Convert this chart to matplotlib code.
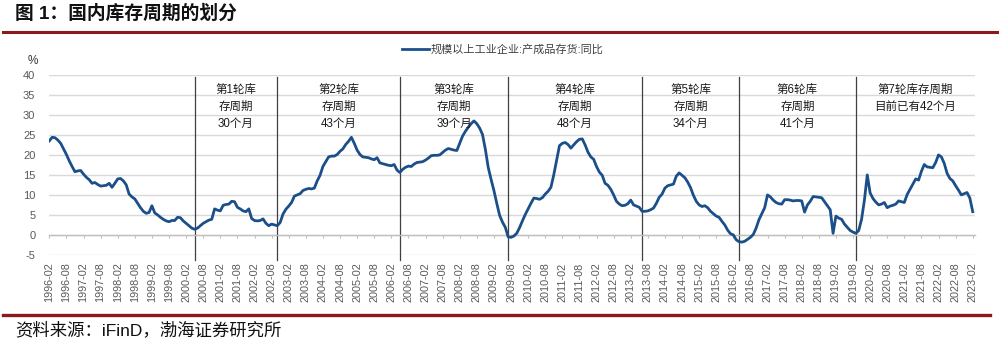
import numpy as np
import pandas as pd
import matplotlib
matplotlib.use("Agg")
import matplotlib.pyplot as plt
from matplotlib.lines import Line2D

plt.rcParams['font.family'] = ['Liberation Sans', 'Noto Sans CJK SC', 'DejaVu Sans']
plt.rcParams['axes.unicode_minus'] = False

# 规模以上工业企业:产成品存货:同比 (%), monthly from 1996-02
months = pd.period_range('1996-02', '2023-02', freq='M')
inventory_yoy = [
    # 1996 (Feb-Dec)
    23.6, 24.5, 24.4, 23.8, 23.0, 21.6, 20.2, 18.6, 17.2, 15.9, 16.1,
    # 1997
    16.2, 15.3, 14.5, 13.9, 13.0, 13.2, 12.7, 12.3, 12.4, 12.5, 13.0, 12.0,
    # 1998
    13.0, 14.1, 14.2, 13.6, 12.6, 10.3, 9.6, 9.1, 8.0, 6.9, 6.0, 5.5,
    # 1999
    5.7, 7.4, 5.6, 5.1, 4.5, 4.0, 3.6, 3.4, 3.7, 3.7, 4.5, 4.4,
    # 2000
    3.6, 3.0, 2.4, 1.8, 1.5, 1.8, 2.4, 3.0, 3.4, 3.8, 4.0, 6.6,
    # 2001
    6.3, 6.1, 7.5, 7.7, 7.8, 8.5, 8.4, 7.0, 6.6, 6.1, 5.9, 6.6,
    # 2002
    4.2, 3.7, 3.6, 3.7, 4.1, 3.0, 2.4, 2.8, 2.6, 2.4, 3.2, 5.3,
    # 2003
    6.5, 7.3, 8.2, 9.8, 10.1, 10.4, 11.2, 11.5, 11.7, 11.6, 11.8, 13.6,
    # 2004
    15.0, 17.2, 18.4, 19.6, 19.8, 19.8, 20.2, 21.0, 21.6, 22.7, 23.5, 24.5,
    # 2005
    23.0, 21.3, 20.2, 19.6, 19.5, 19.4, 19.1, 18.9, 19.4, 18.1, 17.9, 17.7,
    # 2006
    17.5, 17.4, 17.7, 16.3, 15.7, 16.5, 17.0, 17.3, 17.2, 17.8, 18.2, 18.3,
    # 2007
    18.4, 18.8, 19.3, 19.9, 20.0, 20.0, 20.1, 20.7, 21.3, 21.7, 21.5, 21.3,
    # 2008
    21.2, 23.0, 24.8, 26.0, 27.0, 27.9, 28.6, 27.9, 26.8, 25.2, 21.5, 17.0,
    # 2009
    14.0, 11.2, 8.0, 5.0, 3.3, 2.0, -0.4, -0.5, -0.2, 0.5, 1.9, 3.6,
    # 2010
    5.2, 6.6, 8.0, 9.3, 9.2, 9.0, 9.4, 10.3, 11.0, 12.0, 15.1, 18.8,
    # 2011
    22.4, 23.0, 23.2, 22.7, 21.8, 22.6, 23.4, 24.0, 24.1, 22.6, 20.8, 19.6,
    # 2012
    19.0, 17.2, 15.8, 15.0, 13.0, 12.5, 11.5, 10.1, 8.5, 7.8, 7.4, 7.5,
    # 2013
    7.9, 8.8, 7.6, 7.3, 7.0, 6.0, 6.0, 6.1, 6.4, 6.8, 8.0, 9.5,
    # 2014
    10.3, 11.8, 12.4, 12.6, 12.8, 14.8, 15.6, 15.0, 14.4, 13.3, 11.9, 10.0,
    # 2015
    8.5, 7.6, 7.2, 7.4, 6.9, 6.0, 5.4, 4.8, 4.5, 3.5, 2.6, 1.3,
    # 2016
    0.4, 0.1, -1.1, -1.6, -1.7, -1.5, -1.0, -0.5, 0.2, 1.8, 3.9, 5.4,
    # 2017
    6.9, 10.1, 9.6, 8.8, 8.2, 7.9, 7.8, 8.9, 8.9, 8.8, 8.6, 8.7,
    # 2018
    8.7, 8.6, 5.8, 7.6, 8.5, 9.7, 9.6, 9.5, 9.4, 8.4, 7.4, 6.4,
    # 2019
    0.5, 4.8, 4.3, 4.0, 2.8, 2.0, 1.2, 0.8, 0.5, 1.2, 4.0, 8.8,
    # 2020
    15.1, 10.6, 9.2, 8.3, 7.6, 7.8, 8.2, 6.9, 7.3, 7.5, 7.8, 8.6,
    # 2021
    8.4, 8.2, 10.2, 11.5, 12.8, 14.1, 13.8, 16.0, 17.7, 17.1, 17.0, 16.9,
    # 2022
    18.2, 20.1, 19.6, 18.0, 15.5, 14.2, 13.6, 12.4, 11.3, 10.1, 10.4, 10.7,
    # 2023
    9.3, 5.9,
]
assert len(inventory_yoy) == len(months)

# start month of each inventory cycle
cycle_starts = ['2000-05', '2002-10', '2006-05', '2009-07', '2013-06', '2016-04', '2019-09']
cycle_labels = [
    '第1轮库\n存周期\n30个月',
    '第2轮库\n存周期\n43个月',
    '第3轮库\n存周期\n39个月',
    '第4轮库\n存周期\n48个月',
    '第5轮库\n存周期\n34个月',
    '第6轮库\n存周期\n41个月',
    '第7轮库存周期\n目前已有42个月',
]
series_name = '规模以上工业企业:产成品存货:同比'

LINE_BLUE = '#1b4f8a'
DARK_RED = '#8b1a1a'
GREY_TXT = '#595959'

x = np.arange(len(months))
month_pos = {str(p): i for i, p in enumerate(months)}

fig = plt.figure(figsize=(10, 3.45), dpi=100)
ax = fig.add_axes([0.0493, 0.26, 0.9257, 0.5217])

ax.plot(x, inventory_yoy, color=LINE_BLUE, lw=2.0, label=series_name, zorder=3)

ax.set_xlim(0, 324.8)
ax.set_ylim(-5, 40)
ax.set_yticks(range(-5, 41, 5))
ax.yaxis.grid(True, color='#d9d9d9', lw=1.0)
ax.set_axisbelow(True)
for side in ['left', 'right', 'top']:
    ax.spines[side].set_visible(False)
ax.spines['bottom'].set_position(('data', 0))
ax.spines['bottom'].set_color('#bfbfbf')
ax.spines['bottom'].set_linewidth(1.0)

tick_idx = x[::6]
ax.set_xticks(tick_idx)
ax.set_xticklabels([str(months[i]) for i in tick_idx], rotation=90)
ax.tick_params(axis='x', direction='out', length=2.5, color='#bfbfbf',
               pad=17, labelsize=7.8, labelcolor=GREY_TXT)
ax.tick_params(axis='y', length=0, pad=10, labelsize=8, labelcolor=GREY_TXT)

# cycle boundaries and labels
bounds = [month_pos[s] for s in cycle_starts] + [ax.get_xlim()[1]]
for i, label in enumerate(cycle_labels):
    if i < len(cycle_starts):
        ax.plot([bounds[i], bounds[i]], [-6.2, 39.6], color='#404040', lw=0.9,
                clip_on=False, zorder=2)
    mid = (bounds[i] + bounds[i + 1]) / 2
    ax.text(mid, 37.9, label, ha='center', va='top', fontsize=8.3,
            linespacing=1.55, color='#1a1a1a')

fig.text(0.033, 1 - 61 / 345, '%', ha='center', va='center', fontsize=8.5, color='#333333')

fig.legend(loc='center', bbox_to_anchor=(0.503, 1 - 50 / 345), frameon=False,
           fontsize=8, handlelength=2.4, handletextpad=0.2, labelcolor='#404040')

fig.text(0.015, 1 - 14 / 345, '图 1：国内库存周期的划分', ha='left', va='center',
         fontsize=13.5, fontweight='bold', color='#111111')
fig.add_artist(Line2D([0.003, 0.997], [1 - 31.5 / 345] * 2, color=DARK_RED, lw=2.2))
fig.add_artist(Line2D([0.003, 0.990], [1 - 315 / 345] * 2, color=DARK_RED, lw=2.4))
fig.text(0.015, 1 - 330 / 345, '资料来源：iFinD，渤海证券研究所', ha='left', va='center',
         fontsize=12.5, color='#111111')

fig.savefig('out.png', dpi=100)
